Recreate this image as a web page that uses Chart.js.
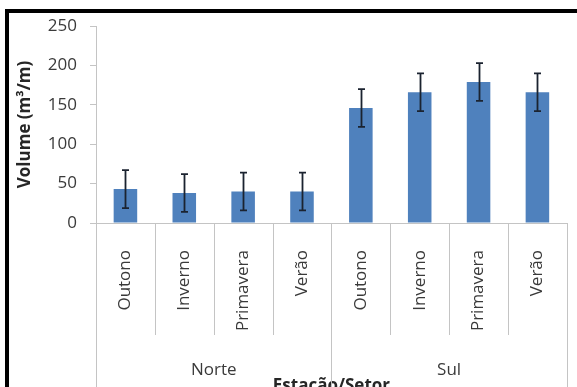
<!DOCTYPE html>
<html>
<head>
<meta charset="utf-8">
<script src="https://cdn.jsdelivr.net/npm/chart.js"></script>
<style>
  html, body { margin: 0; padding: 0; background: #fff; overflow: hidden; }
  #wrap { width: 577px; height: 387px; overflow: hidden; }
</style>
</head>
<body>
<div id="wrap"><canvas id="chart" width="577" height="400"></canvas></div>
<script>
const seasons = ['Outono', 'Inverno', 'Primavera', 'Verão', 'Outono', 'Inverno', 'Primavera', 'Verão'];
const sectors = ['Norte', 'Sul'];
const volume = [43, 38, 40, 40, 146, 166, 179, 166];
const errors = [24, 24, 24, 24, 24, 24, 24, 24];
const yTicks = [0, 50, 100, 150, 200, 250];

const AXIS_GREY = '#c4c4c4';
const TEXT = '#3a3a3a';

// moldura preta e linhas de separação das categorias
const framePlugin = {
    id: 'frame',
    beforeDraw(chart) {
        const ctx = chart.ctx;
        ctx.save();
        ctx.fillStyle = '#fff';
        ctx.fillRect(0, 0, chart.width, chart.height);
        ctx.fillStyle = '#000';
        ctx.fillRect(5, 9, chart.width - 5, 4);
        ctx.fillRect(5, 9, 4, chart.height);
        ctx.restore();
    },
    afterDraw(chart) {
        const ctx = chart.ctx;
        const xs = chart.scales.x;
        const step = (xs.right - xs.left) / seasons.length;
        const perGroup = seasons.length / sectors.length;
        ctx.save();
        ctx.strokeStyle = AXIS_GREY;
        ctx.lineWidth = 1;
        for (let i = 0; i <= seasons.length; i++) {
            const x = Math.round(xs.left + i * step) + 0.5;
            const end = (i % perGroup === 0) ? chart.height : xs.bottom - 5;
            ctx.beginPath();
            ctx.moveTo(x, xs.top);
            ctx.lineTo(x, end);
            ctx.stroke();
        }
        ctx.restore();
    }
};

// barras de erro
const errorBarPlugin = {
    id: 'errorBars',
    afterDatasetsDraw(chart) {
        const ctx = chart.ctx;
        const ys = chart.scales.y;
        const meta = chart.getDatasetMeta(0);
        ctx.save();
        ctx.strokeStyle = '#1b2330';
        ctx.lineWidth = 1.8;
        meta.data.forEach((bar, i) => {
            const x = Math.round(bar.x) + 0.5;
            const top = ys.getPixelForValue(volume[i] + errors[i]);
            const bot = ys.getPixelForValue(volume[i] - errors[i]);
            ctx.beginPath();
            ctx.moveTo(x, top);
            ctx.lineTo(x, bot);
            ctx.moveTo(x - 3.5, top);
            ctx.lineTo(x + 3.5, top);
            ctx.moveTo(x - 3.5, bot);
            ctx.lineTo(x + 3.5, bot);
            ctx.stroke();
        });
        ctx.restore();
    }
};

new Chart(document.getElementById('chart'), {
    type: 'bar',
    data: {
        labels: seasons,
        datasets: [{
            label: 'Volume',
            data: volume,
            backgroundColor: '#4F81BD',
            borderWidth: 0,
            barPercentage: 0.4,
            categoryPercentage: 1.0,
            xAxisID: 'x',
            yAxisID: 'y'
        }]
    },
    options: {
        responsive: false,
        animation: false,
        layout: { padding: { top: 26, right: 3, bottom: 4, left: 0 } },
        plugins: {
            legend: { display: false },
            tooltip: { enabled: false }
        },
        scales: {
            y: {
                min: 0,
                max: 250,
                afterBuildTicks: (scale) => { scale.ticks = yTicks.map(v => ({ value: v })); },
                afterFit: (scale) => { scale.width = 96; },
                grid: { drawOnChartArea: false, drawTicks: true, tickLength: 6, color: AXIS_GREY },
                border: { color: AXIS_GREY },
                ticks: {
                    padding: 13,
                    color: TEXT,
                    font: { family: 'Open Sans', size: 17 }
                },
                title: {
                    display: true,
                    text: 'Volume (m³/m)',
                    color: '#262626',
                    padding: { top: 15, bottom: 0 },
                    font: { family: 'Open Sans', size: 17, weight: 'bold' }
                }
            },
            x: {
                position: 'bottom',
                afterFit: (scale) => { scale.height = 117; },
                grid: { display: false },
                border: { display: true, color: AXIS_GREY },
                ticks: {
                    autoSkip: false,
                    minRotation: 90,
                    maxRotation: 90,
                    padding: 19,
                    color: TEXT,
                    font: { family: 'Open Sans', size: 17 }
                }
            },
            x2: {
                type: 'category',
                position: 'bottom',
                labels: sectors,
                offset: true,
                afterFit: (scale) => { scale.height = 56; },
                grid: { display: false },
                border: { display: false },
                ticks: {
                    padding: 12,
                    color: TEXT,
                    font: { family: 'Open Sans', size: 17 }
                },
                title: {
                    display: true,
                    text: 'Estação/Setor',
                    color: '#262626',
                    padding: { top: 0, bottom: 0 },
                    font: { family: 'Open Sans', size: 17, weight: 'bold' }
                }
            }
        }
    },
    plugins: [framePlugin, errorBarPlugin]
});
</script>
</body>
</html>
